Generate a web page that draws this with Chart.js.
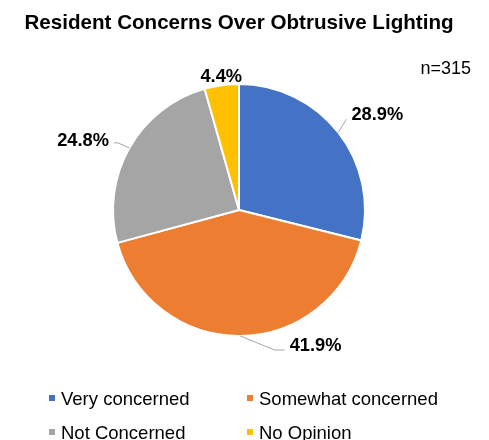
<!DOCTYPE html>
<html>
<head>
<meta charset="utf-8">
<script src="https://cdn.jsdelivr.net/npm/chart.js@4.4.1/dist/chart.umd.min.js"></script>
<style>
  html, body { margin: 0; padding: 0; background: #fff; }
  #wrap { width: 489px; height: 440px; position: relative; }
</style>
</head>
<body>
<div id="wrap"><canvas id="pie"></canvas></div>
<script>
// Dados do gráfico
const chartTitle = "Resident Concerns Over Obtrusive Lighting";
const sampleNote = "n=315";
const categories = ["Very concerned", "Somewhat concerned", "Not Concerned", "No Opinion"];
const shares = [28.9, 41.9, 24.8, 4.4];
const colors = ["#4472C4", "#ED7D31", "#A5A5A5", "#FFC000"];

// Posição dos rótulos: deslocamento angular (graus) e distância relativa ao raio
const labelShift = [3, -29.2, -5.3, 0.4];
const labelDist = [1.34, 1.225, 1.357, 1.077];
const leaderType = ["direct", "elbow", "elbow", null];

const FONT = "'Liberation Sans', Arial, sans-serif";

// Plugin que desenha título, nota, rótulos com linhas guia e legenda
const decorPlugin = {
    id: "decor",
    afterDraw(chart) {
        const ctx = chart.ctx;
        ctx.save();

        // Título
        ctx.fillStyle = "#000";
        ctx.font = "bold 20.6px " + FONT;
        ctx.textAlign = "center";
        ctx.textBaseline = "alphabetic";
        ctx.fillText(chartTitle, 239, 28.5);

        // n=315
        ctx.font = "18px " + FONT;
        ctx.textAlign = "right";
        ctx.fillText(sampleNote, 471, 74);

        // Rótulos de porcentagem
        const meta = chart.getDatasetMeta(0);
        ctx.font = "bold 18.3px " + FONT;
        meta.data.forEach((arc, i) => {
            const { x, y, startAngle, endAngle, outerRadius } = arc.getProps(["x", "y", "startAngle", "endAngle", "outerRadius"], true);
            const mid = (startAngle + endAngle) / 2;
            const ang = mid + labelShift[i] * Math.PI / 180;
            const lx = x + Math.cos(ang) * outerRadius * labelDist[i];
            const ly = y + Math.sin(ang) * outerRadius * labelDist[i];
            const text = shares[i].toFixed(1) + "%";
            const w = ctx.measureText(text).width;

            // Linha guia
            if (leaderType[i]) {
                const ex = x + Math.cos(mid) * outerRadius;
                const ey = y + Math.sin(mid) * outerRadius;
                const right = lx > x;
                const tx = right ? lx - w / 2 - 5 : lx + w / 2 + 5;
                ctx.strokeStyle = "#A6A6A6";
                ctx.lineWidth = 1;
                ctx.beginPath();
                ctx.moveTo(ex, ey);
                if (leaderType[i] === "elbow") {
                    const ty = ly + (right ? 6 : 3);
                    const kx = right ? tx - 10 : tx + 4;
                    ctx.lineTo(kx, ty);
                    ctx.lineTo(tx, ty);
                } else {
                    ctx.lineTo(tx, ly + 6);
                }
                ctx.stroke();
            }

            ctx.fillStyle = "#000";
            ctx.textAlign = "center";
            ctx.fillText(text, lx, ly + 6.5);
        });

        // Legenda em duas colunas
        const colX = [49, 247];
        const rowY = [398, 432];
        ctx.font = "18.5px " + FONT;
        ctx.textAlign = "left";
        categories.forEach((name, i) => {
            const cx = colX[i % 2];
            const cy = rowY[Math.floor(i / 2)];
            ctx.fillStyle = colors[i];
            ctx.fillRect(cx, cy - 3, 6, 6);
            ctx.fillStyle = "#000";
            ctx.fillText(name, cx + 12, cy + 6.5);
        });

        ctx.restore();
    }
};

const ctx = document.getElementById("pie").getContext("2d");
new Chart(ctx, {
    type: "pie",
    data: {
        labels: categories,
        datasets: [{
            data: shares,
            backgroundColor: colors,
            borderColor: "#fff",
            borderWidth: 2
        }]
    },
    options: {
        responsive: true,
        maintainAspectRatio: false,
        animation: false,
        layout: {
            padding: { left: 112, right: 123, top: 83, bottom: 103 }
        },
        plugins: {
            legend: { display: false },
            title: { display: false },
            tooltip: { enabled: false }
        }
    },
    plugins: [decorPlugin]
});
</script>
</body>
</html>
